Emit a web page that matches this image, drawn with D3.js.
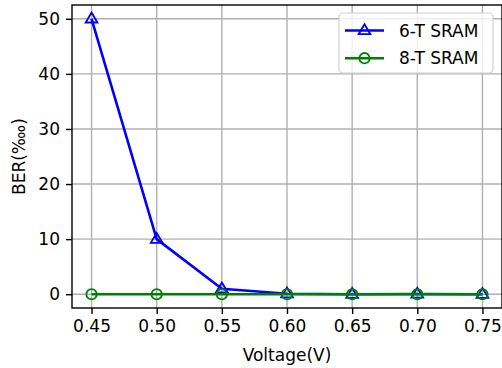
<!DOCTYPE html>
<html><head><meta charset="utf-8">
<script src="https://cdn.jsdelivr.net/npm/d3@7"></script>
<style>body{margin:0;background:#fff}svg{display:block}text{font-family:"DejaVu Sans",sans-serif;fill:#000}</style>
</head><body>
<svg id="c" width="502" height="368"></svg>
<script>
const voltages = [0.45, 0.50, 0.55, 0.60, 0.65, 0.70, 0.75];
const ber6T = [50, 10, 1, 0.1, 0, 0.05, 0];
const ber8T = [0, 0, 0, 0, 0, 0, 0];
const xTicks = [0.45, 0.50, 0.55, 0.60, 0.65, 0.70, 0.75];
const yTicks = [0, 10, 20, 30, 40, 50];
const seriesNames = ["6-T SRAM", "8-T SRAM"];

const svg = d3.select("#c");
const L = 72, R = 502, T = 5, B = 308;
const x = d3.scaleLinear().domain([0.435, 0.765]).range([L, R]);
const y = d3.scaleLinear().domain([-2.5, 52.5]).range([B, T]);
const fs = 17;

// grid
const g = svg.append("g");
g.selectAll(".gx").data(xTicks).enter().append("line")
  .attr("x1", d => x(d)).attr("x2", d => x(d)).attr("y1", T).attr("y2", B)
  .attr("stroke", "#b0b0b0").attr("stroke-width", 1.4);
g.selectAll(".gy").data(yTicks).enter().append("line")
  .attr("x1", L).attr("x2", R).attr("y1", d => y(d)).attr("y2", d => y(d))
  .attr("stroke", "#b0b0b0").attr("stroke-width", 1.4);

// axes
const xAxis = d3.axisBottom(x).tickValues(xTicks).tickFormat(d3.format(".2f")).tickSize(6).tickPadding(6);
const yAxis = d3.axisLeft(y).tickValues(yTicks).tickFormat(d3.format("d")).tickSize(6).tickPadding(6);
const ax = svg.append("g").attr("transform", `translate(0,${B})`).call(xAxis);
const ay = svg.append("g").attr("transform", `translate(${L},0)`).call(yAxis);
[ax, ay].forEach(a => {
  a.select(".domain").remove();
  a.selectAll(".tick line").attr("stroke", "#000").attr("stroke-width", 1.4);
  a.selectAll(".tick text").attr("font-size", fs).attr("font-family", "DejaVu Sans").attr("fill", "#262626");
});

// spines
svg.append("rect").attr("x", L).attr("y", T).attr("width", R - L).attr("height", B - T)
  .attr("fill", "none").attr("stroke", "#000").attr("stroke-width", 1.4);

// series
const line = d3.line().x((d, i) => x(voltages[i])).y(d => y(d));
function tri(cx, cy, r) {
  return `M${cx},${cy - r}L${cx + r * 0.95},${cy + r * 0.6}L${cx - r * 0.95},${cy + r * 0.6}Z`;
}
// 6-T
svg.append("path").datum(ber6T).attr("d", line).attr("fill", "none")
  .attr("stroke", "#0000ff").attr("stroke-width", 2.6).attr("stroke-linejoin", "round");
svg.selectAll(".m6").data(ber6T).enter().append("path")
  .attr("d", (d, i) => tri(x(voltages[i]), y(d), 6.2))
  .attr("fill", "none").attr("stroke", "#0000ff").attr("stroke-width", 1.8);
// 8-T
svg.append("path").datum(ber8T).attr("d", line).attr("fill", "none")
  .attr("stroke", "#008000").attr("stroke-width", 2.6);
svg.selectAll(".m8").data(ber8T).enter().append("circle")
  .attr("cx", (d, i) => x(voltages[i])).attr("cy", d => y(d)).attr("r", 5.2)
  .attr("fill", "none").attr("stroke", "#008000").attr("stroke-width", 1.8);

// labels
svg.append("text").attr("x", (L + R) / 2).attr("y", 361).attr("text-anchor", "middle")
  .attr("font-size", fs).attr("fill", "#262626").text("Voltage(V)");
svg.append("text").attr("transform", `translate(25,${(T + B) / 2}) rotate(-90)`)
  .attr("text-anchor", "middle").attr("font-size", fs).attr("fill", "#262626").text("BER(‱)");

// legend
const lg = svg.append("g");
lg.append("rect").attr("x", 339).attr("y", 13).attr("width", 154).attr("height", 60)
  .attr("rx", 4).attr("fill", "#fff").attr("fill-opacity", 0.8).attr("stroke", "#d0d0d0").attr("stroke-width", 1.2);
const colors = ["#0000ff", "#008000"];
seriesNames.forEach((name, i) => {
  const ly = 30.5 + i * 27.7;
  lg.append("line").attr("x1", 345).attr("x2", 384).attr("y1", ly).attr("y2", ly)
    .attr("stroke", colors[i]).attr("stroke-width", 2.6);
  if (i === 0) lg.append("path").attr("d", tri(364.5, ly, 6.2)).attr("fill", "none").attr("stroke", colors[i]).attr("stroke-width", 1.8);
  else lg.append("circle").attr("cx", 364.5).attr("cy", ly).attr("r", 5.2).attr("fill", "none").attr("stroke", colors[i]).attr("stroke-width", 1.8);
  lg.append("text").attr("x", 399).attr("y", ly + 6).attr("font-size", fs).attr("fill", "#262626").text(name);
});
</script>
</body></html>
